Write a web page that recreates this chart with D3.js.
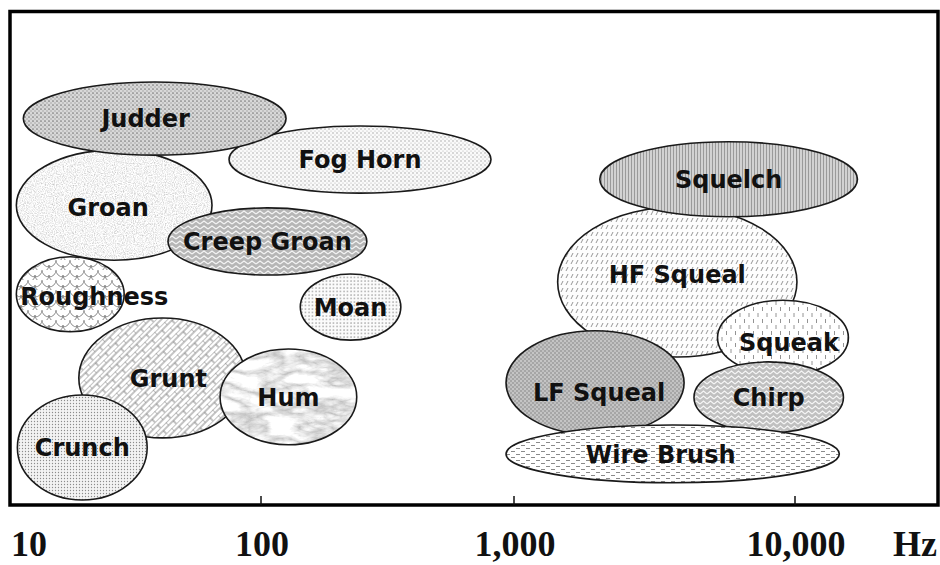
<!DOCTYPE html>
<html>
<head>
<meta charset="utf-8">
<script src="https://cdn.jsdelivr.net/npm/d3@7"></script>
<style>
  body { margin: 0; background: #fff; }
  .lbl { font-family: "DejaVu Sans", sans-serif; font-weight: bold; font-size: 24px; fill: #111; }
  .tick-lbl { font-family: "Liberation Serif", serif; font-weight: bold; font-size: 36px; fill: #111; }
</style>
</head>
<body>
<svg id="chart"></svg>
<script>
// noise types, in drawing order (later ones sit on top)
var sounds    = ["Groan", "Fog Horn", "Judder", "Creep Groan", "Roughness", "Moan", "Grunt", "Crunch", "Hum",
                 "HF Squeal", "Squelch", "Squeak", "LF Squeal", "Chirp", "Wire Brush"];
// frequency range, Hz
var freqLow   = [10.6, 74.6, 11.3, 42.6, 10.6, 143, 18.8, 10.7, 68.7, 1430, 2020, 5300, 930, 4370, 930];
var freqHigh  = [63.8, 811, 125.6, 262, 28.5, 357, 87.1, 35.2, 239, 10160, 16620, 15440, 4030, 14830, 14340];
// vertical extent (arbitrary 0-100)
var levelLow  = [49.6, 63.2, 70.9, 46.6, 35.1, 33.4, 13.6, 1.0, 12.2, 30.0, 58.4, 26.3, 14.2, 14.6, 4.5];
var levelHigh = [71.9, 76.8, 85.7, 60.2, 50.3, 46.8, 37.9, 22.3, 31.6, 60.4, 73.6, 41.5, 35.3, 29.0, 16.2];

var tickValues = [10, 100, 1000, 10000];
var tickLabels = ["10", "100", "1,000", "10,000"];
var unitLabel = "Hz";

var width = 940, height = 565;

var svg = d3.select("#chart").attr("width", width).attr("height", height);

var x = d3.scaleLog()
  .domain([10, 100, 1000, 10000, 32000])
  .range([10, 261, 514, 795, 938]);
var y = d3.scaleLinear().domain([0, 100]).range([505, 11.5]);

// ---- fill patterns ----
var defs = svg.append("defs");
function pat(id, w, h, bg, transform) {
  var p = defs.append("pattern").attr("id", id)
    .attr("patternUnits", "userSpaceOnUse")
    .attr("width", w).attr("height", h);
  if (transform) p.attr("patternTransform", transform);
  p.append("rect").attr("width", w).attr("height", h).attr("fill", bg);
  return p;
}
function noise(id, type, freq, oct, seed, k, c) {
  var f = defs.append("filter").attr("id", id + "F")
    .attr("filterUnits", "userSpaceOnUse")
    .attr("x", 0).attr("y", 0).attr("width", width).attr("height", height);
  f.append("feTurbulence").attr("type", type).attr("baseFrequency", freq)
    .attr("numOctaves", oct).attr("seed", seed);
  var row = k + " 0 0 0 " + c + " ";
  f.append("feColorMatrix").attr("type", "matrix")
    .attr("values", row + row + row + "0 0 0 0 1");
  var p = defs.append("pattern").attr("id", id)
    .attr("patternUnits", "userSpaceOnUse").attr("width", width).attr("height", height);
  p.append("rect").attr("width", width).attr("height", height).attr("filter", "url(#" + id + "F)");
}

var p;
p = pat("stipple", 4, 4, "#d8d8d8");
p.append("circle").attr("cx", 1).attr("cy", 1).attr("r", 0.85).attr("fill", "#7a7a7a");
p.append("circle").attr("cx", 3).attr("cy", 3).attr("r", 0.7).attr("fill", "#9a9a9a");

p = pat("dotsLight", 4, 4, "#fafafa");
p.append("circle").attr("cx", 1).attr("cy", 1).attr("r", 0.7).attr("fill", "#9a9a9a");
p.append("circle").attr("cx", 3).attr("cy", 3).attr("r", 0.6).attr("fill", "#b0b0b0");

p = pat("dotsMoan", 3.5, 3.5, "#fbfbfb");
p.append("circle").attr("cx", 1).attr("cy", 1).attr("r", 0.7).attr("fill", "#8c8c8c");

p = pat("dotsFine", 3, 3, "#f3f3f3");
p.append("circle").attr("cx", 1.5).attr("cy", 1.5).attr("r", 0.65).attr("fill", "#8c8c8c");

p = pat("zigzag", 8, 5, "#b6b6b6");
p.append("path").attr("d", "M0,4 L4,1 L8,4").attr("fill", "none").attr("stroke", "#f4f4f4").attr("stroke-width", 1.2);

p = pat("zigzag2", 7, 5, "#c0c0c0");
p.append("path").attr("d", "M0,4 L3.5,1 L7,4").attr("fill", "none").attr("stroke", "#f6f6f6").attr("stroke-width", 1.1);

p = pat("scales", 14, 10, "#ffffff");
p.append("path").attr("d", "M0,0 A7,7 0 0 0 14,0 M-7,5 A7,7 0 0 0 7,5 M7,5 A7,7 0 0 0 21,5 M0,10 A7,7 0 0 0 14,10")
  .attr("fill", "none").attr("stroke", "#808080").attr("stroke-width", 0.9);

p = pat("brick", 14, 8, "#ffffff", "rotate(-45)");
p.append("path").attr("d", "M0,0 H14 M0,4 H14 M0,0 V4 M7,4 V8")
  .attr("fill", "none").attr("stroke", "#7a7a7a").attr("stroke-width", 0.9);

p = pat("vlines", 3, 4, "#d2d2d2");
p.append("path").attr("d", "M1.5,0 V4").attr("stroke", "#8c8c8c").attr("stroke-width", 0.8);

p = pat("slashes", 5, 7, "#fdfdfd");
p.append("path").attr("d", "M1,5 L3,1").attr("stroke", "#8a8a8a").attr("stroke-width", 0.9);

p = pat("vdash", 9, 12, "#ffffff");
p.append("path").attr("d", "M2,1 V5 M6.5,7 V11").attr("stroke", "#888").attr("stroke-width", 0.9);

p = pat("dense", 4, 4, "#a6a6a6");
p.append("circle").attr("cx", 1).attr("cy", 1).attr("r", 0.8).attr("fill", "#eeeeee");
p.append("circle").attr("cx", 3).attr("cy", 3).attr("r", 0.8).attr("fill", "#e2e2e2");

p = pat("hdash", 10, 6, "#ffffff");
p.append("path").attr("d", "M1,1.5 h4 M6,4.5 h4").attr("stroke", "#8a8a8a").attr("stroke-width", 1);

noise("speckle", "fractalNoise", 0.9, 2, 3, 0.9, 0.45);
noise("marble", "turbulence", "0.03 0.07", 4, 7, 1.1, 0.5);

var fillOf = {
  "Groan": "speckle", "Fog Horn": "dotsLight", "Judder": "stipple", "Creep Groan": "zigzag",
  "Roughness": "scales", "Moan": "dotsMoan", "Grunt": "brick", "Crunch": "dotsFine", "Hum": "marble",
  "HF Squeal": "slashes", "Squelch": "vlines", "Squeak": "vdash", "LF Squeal": "dense",
  "Chirp": "zigzag2", "Wire Brush": "hdash"
};
// small label nudges (px) where the text sits off-centre in the original
var nudge = {
  "Judder": [-9, 0], "Groan": [-6, 2], "Roughness": [24, 2], "Grunt": [6, 0],
  "HF Squeal": [0, -8], "Squeak": [6, 5], "LF Squeal": [4, 10], "Wire Brush": [-12, 0]
};

// ---- frame ----
svg.append("rect")
  .attr("x", x(10)).attr("y", y(100))
  .attr("width", x(32000) - x(10)).attr("height", y(0) - y(100))
  .attr("fill", "none").attr("stroke", "#000").attr("stroke-width", 3.5);

// tick marks (inside, on bottom edge)
svg.selectAll(".tk")
  .data(tickValues.slice(1))
  .enter().append("line")
  .attr("x1", function(d) { return x(d); }).attr("x2", function(d) { return x(d); })
  .attr("y1", y(0)).attr("y2", y(0) - 9)
  .attr("stroke", "#111").attr("stroke-width", 1.5);

// ---- ellipses ----
var rows = sounds.map(function(s, i) {
  return { name: s, x0: freqLow[i], x1: freqHigh[i], y0: levelLow[i], y1: levelHigh[i] };
});

var g = svg.selectAll(".blob")
  .data(rows)
  .enter().append("g")
  .attr("class", "blob");

g.append("ellipse")
  .attr("cx", function(d) { return (x(d.x0) + x(d.x1)) / 2; })
  .attr("cy", function(d) { return (y(d.y0) + y(d.y1)) / 2; })
  .attr("rx", function(d) { return (x(d.x1) - x(d.x0)) / 2; })
  .attr("ry", function(d) { return (y(d.y0) - y(d.y1)) / 2; })
  .attr("fill", function(d) { return "url(#" + fillOf[d.name] + ")"; })
  .attr("stroke", "#1a1a1a")
  .attr("stroke-width", 1.6);

g.append("text")
  .attr("class", "lbl")
  .attr("x", function(d) { return (x(d.x0) + x(d.x1)) / 2 + (nudge[d.name] ? nudge[d.name][0] : 0); })
  .attr("y", function(d) { return (y(d.y0) + y(d.y1)) / 2 + (nudge[d.name] ? nudge[d.name][1] : 0); })
  .attr("dy", "0.36em")
  .attr("text-anchor", "middle")
  .text(function(d) { return d.name; });

// ---- axis labels ----
svg.selectAll(".tick-lbl")
  .data(tickValues)
  .enter().append("text")
  .attr("class", "tick-lbl")
  .attr("x", function(d) { return x(d) + 1; })
  .attr("y", 556)
  .attr("text-anchor", function(d, i) { return i === 0 ? "start" : "middle"; })
  .text(function(d, i) { return tickLabels[i]; });

svg.append("text")
  .attr("class", "tick-lbl")
  .attr("x", 893).attr("y", 556)
  .text(unitLabel);
</script>
</body>
</html>
